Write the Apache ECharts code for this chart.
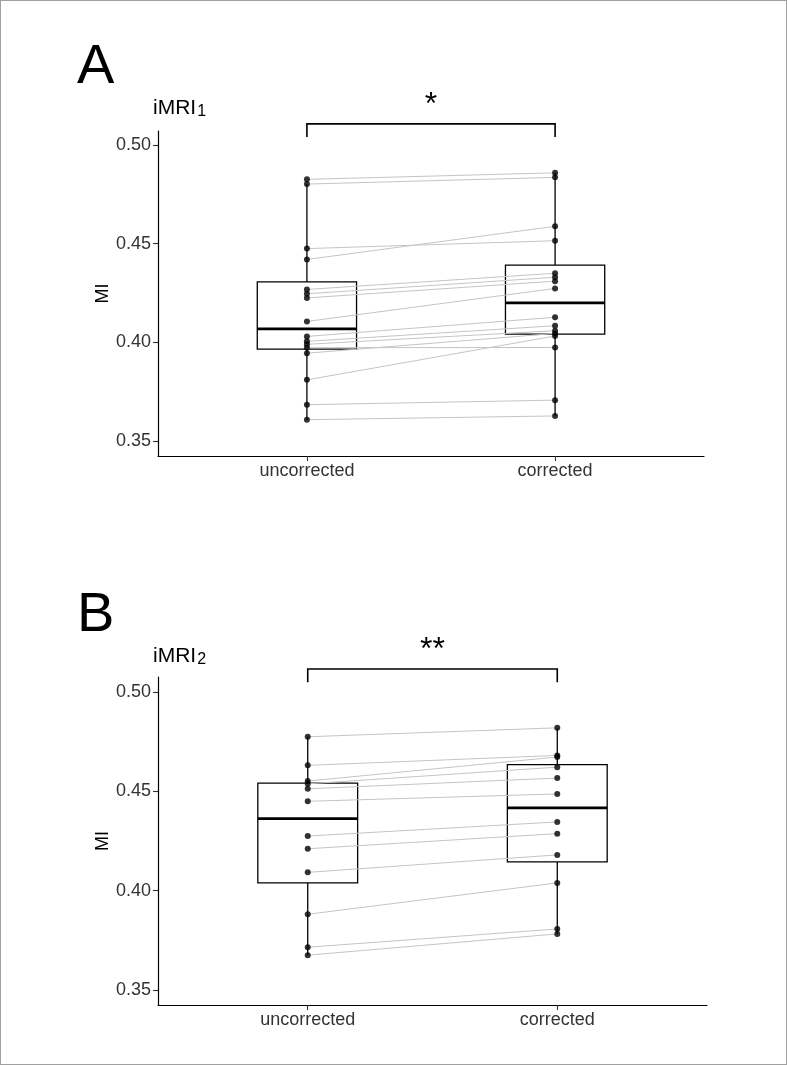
<!DOCTYPE html>
<html><head><meta charset="utf-8">
<script src="https://cdn.jsdelivr.net/npm/echarts@6/dist/echarts.min.js"></script>
<style>html,body{margin:0;padding:0;background:#fff}#c{width:787px;height:1065px;box-sizing:border-box;border:1px solid #a0a0a0}</style>
</head><body><div id="c"></div>
<script>
// ---------- data ----------
const categories = ['uncorrected', 'corrected'];
const yTicks = [0.35, 0.40, 0.45, 0.50];
const panelLabels = ['A', 'B'];
const panelSubscripts = ['1', '2'];
const significance = ['*', '**'];
// paired subjects (same index = same subject)
const aUncorrected = [0.4826, 0.4802, 0.4475, 0.4420, 0.4268, 0.4246, 0.4225, 0.4106, 0.4030, 0.4005, 0.3990, 0.3973, 0.3945, 0.3810, 0.3684, 0.3608];
const aCorrected   = [0.4859, 0.4836, 0.4515, 0.4588, 0.4350, 0.4330, 0.4310, 0.4273, 0.4127, 0.4084, 0.4059, 0.3974, 0.4045, 0.4032, 0.3707, 0.3627];
const bUncorrected = [0.4775, 0.4631, 0.4552, 0.4538, 0.4513, 0.4450, 0.4275, 0.4211, 0.4092, 0.3881, 0.3715, 0.3675];
const bCorrected   = [0.4820, 0.4681, 0.4673, 0.4622, 0.4567, 0.4487, 0.4346, 0.4287, 0.4180, 0.4039, 0.3807, 0.3782];

// ---------- helpers ----------
function quantile(arr, p) {
  const s = [...arr].sort((a, b) => a - b);
  const h = (s.length - 1) * p, lo = Math.floor(h);
  const hi = Math.min(lo + 1, s.length - 1);
  return s[lo] + (h - lo) * (s[hi] - s[lo]);
}
function boxStats(arr) {
  const q1 = quantile(arr, 0.25), med = quantile(arr, 0.5), q3 = quantile(arr, 0.75);
  const iqr = q3 - q1;
  const inside = arr.filter(v => v >= q1 - 1.5 * iqr && v <= q3 + 1.5 * iqr);
  return [Math.min(...inside), q1, med, q3, Math.max(...inside)];
}

const FONT = 'Liberation Sans, Arial, Helvetica, sans-serif';
const panels = [
  { u: aUncorrected, c: aCorrected, grid: { left: 157, top: 130, width: 546, height: 325 }, yMin: 0.3424, yMax: 0.5071, barY: 0.5107, tickY: 0.5041, titleTop: 91.5, letterTop: 34 },
  { u: bUncorrected, c: bCorrected, grid: { left: 157, top: 676, width: 549, height: 328 }, yMin: 0.3424, yMax: 0.5076, barY: 0.5116, tickY: 0.5050, titleTop: 639.5, letterTop: 582 }
];

const option = { animation: false, grid: [], xAxis: [], yAxis: [], series: [], title: [] };

panels.forEach((p, i) => {
  option.grid.push(p.grid);
  option.xAxis.push({
    type: 'value', gridIndex: i, min: 0.4, max: 2.6,
    axisLine: { onZero: false, lineStyle: { color: '#000', width: 1.2 } },
    splitLine: { show: false },
    axisTick: { customValues: [1, 2], length: 5, lineStyle: { color: '#333', width: 1.1 } },
    axisLabel: { customValues: [1, 2], formatter: v => categories[Math.round(v) - 1], color: '#333', fontSize: 18, fontFamily: FONT, margin: 6 }
  });
  option.yAxis.push({
    type: 'value', gridIndex: i, min: p.yMin, max: p.yMax,
    name: 'MI', nameLocation: 'middle', nameGap: 46, nameRotate: 90, nameMoveOverlap: false,
    nameTextStyle: { color: '#000', fontSize: 18, fontFamily: FONT },
    axisLine: { show: true, onZero: false, lineStyle: { color: '#000', width: 1.2 } },
    splitLine: { show: false },
    axisTick: { show: true, customValues: yTicks, length: 5, lineStyle: { color: '#333', width: 1.1 } },
    axisLabel: { customValues: yTicks, formatter: v => v.toFixed(2), color: '#333', fontSize: 18, fontFamily: FONT, margin: 7 }
  });

  // boxes
  const boxes = [[1, ...boxStats(p.u)], [2, ...boxStats(p.c)]];
  option.series.push({
    type: 'custom', xAxisIndex: i, yAxisIndex: i, data: boxes, z: 1,
    renderItem: (params, api) => {
      const x = api.value(0);
      const pt = k => api.coord([x, api.value(k)]);
      const lo = pt(1), q1 = pt(2), md = pt(3), q3 = pt(4), hi = pt(5);
      const L = api.coord([x - 0.2, api.value(3)])[0], R = api.coord([x + 0.2, api.value(3)])[0];
      const ls = { stroke: '#000', lineWidth: 1.3 };
      return { type: 'group', children: [
        { type: 'line', shape: { x1: lo[0], y1: lo[1], x2: q1[0], y2: q1[1] }, style: ls },
        { type: 'line', shape: { x1: q3[0], y1: q3[1], x2: hi[0], y2: hi[1] }, style: ls },
        { type: 'rect', shape: { x: L, y: q3[1], width: R - L, height: q1[1] - q3[1] }, style: { fill: '#fff', stroke: '#000', lineWidth: 1.3 } },
        { type: 'line', shape: { x1: L, y1: md[1], x2: R, y2: md[1] }, style: { stroke: '#000', lineWidth: 2.8 } }
      ] };
    }
  });

  // paired lines
  option.series.push({
    type: 'custom', xAxisIndex: i, yAxisIndex: i, z: 2,
    data: p.u.map((v, k) => [v, p.c[k]]),
    renderItem: (params, api) => {
      const a = api.coord([1, api.value(0)]), b = api.coord([2, api.value(1)]);
      return { type: 'line', shape: { x1: a[0], y1: a[1], x2: b[0], y2: b[1] }, style: { stroke: '#c4c4c4', lineWidth: 1 } };
    }
  });

  // points
  option.series.push({
    type: 'scatter', xAxisIndex: i, yAxisIndex: i, z: 3, symbolSize: 6,
    itemStyle: { color: '#000' },
    data: [...p.u.map(v => [1, v]), ...p.c.map(v => [2, v])]
  });

  // significance bracket
  option.series.push({
    type: 'custom', xAxisIndex: i, yAxisIndex: i, z: 4, clip: false, silent: true,
    data: [[1, 2, p.barY, p.tickY]],
    renderItem: (params, api) => {
      const a0 = api.coord([api.value(0), api.value(3)]), a1 = api.coord([api.value(0), api.value(2)]);
      const b1 = api.coord([api.value(1), api.value(2)]), b0 = api.coord([api.value(1), api.value(3)]);
      return { type: 'group', children: [
        { type: 'polyline', shape: { points: [a0, a1, b1, b0] }, style: { stroke: '#000', lineWidth: 1.6, fill: null } },
        { type: 'text', x: (a1[0] + b1[0]) / 2, y: a1[1] - 19, style: { text: significance[i], fill: '#000', fontSize: 32, fontFamily: FONT, align: 'center', verticalAlign: 'middle' } }
      ] };
    }
  });

  // panel letter and subtitle
  option.title.push({
    text: panelLabels[i], left: 71, top: p.letterTop,
    textStyle: { fontSize: 56, fontWeight: 'normal', color: '#000', fontFamily: FONT }
  });
  option.title.push({
    text: '{m|iMRI}{s|' + panelSubscripts[i] + '}', left: 147, top: p.titleTop,
    textStyle: { fontWeight: 'normal', rich: {
      m: { fontSize: 21, fontWeight: 'normal', color: '#000', fontFamily: FONT, verticalAlign: 'top', lineHeight: 22 },
      s: { fontSize: 16, fontWeight: 'normal', color: '#000', fontFamily: FONT, verticalAlign: 'bottom', lineHeight: 14, padding: [8, 0, 0, 1] }
    } }
  });
});

const chart = echarts.init(document.getElementById('c'), null, { renderer: 'canvas' });
chart.setOption(option);
</script>
</body></html>
